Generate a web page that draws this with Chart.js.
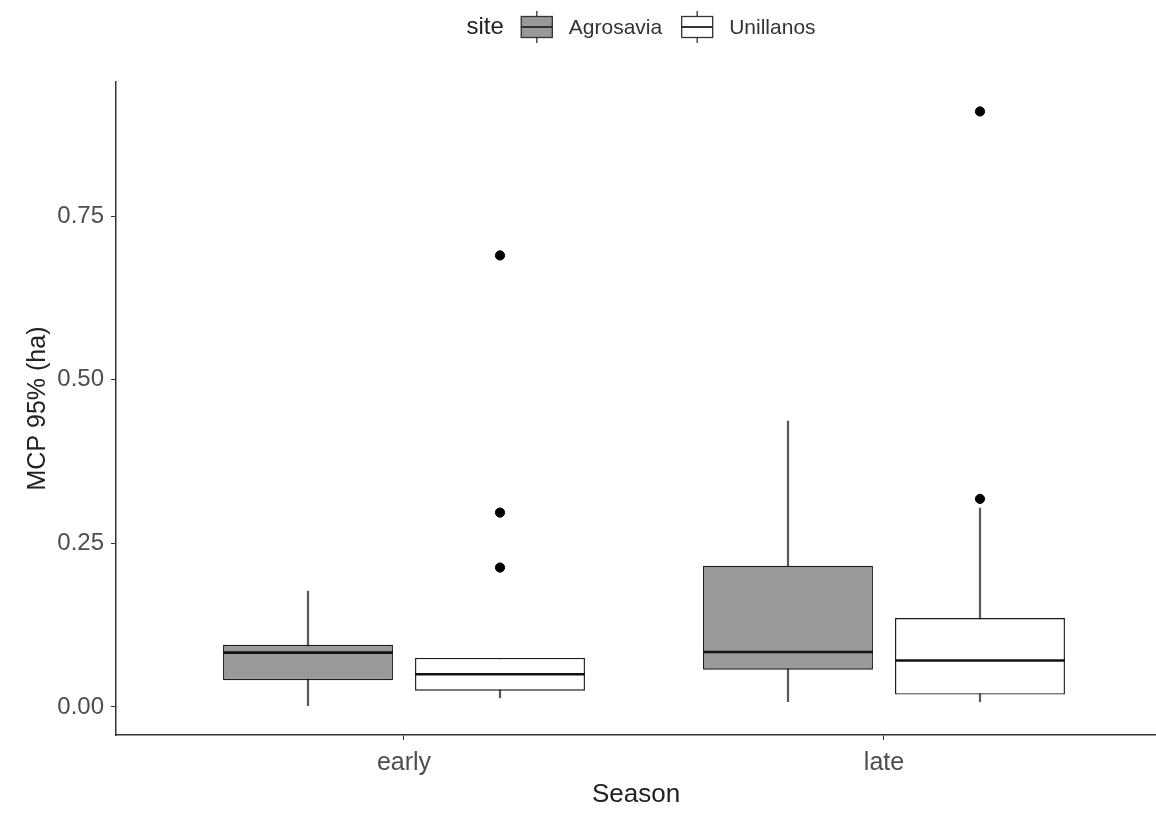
<!DOCTYPE html>
<html>
<head>
<meta charset="utf-8">
<script src="https://cdn.jsdelivr.net/npm/chart.js@4.4.0/dist/chart.umd.min.js"></script>
<style>
  html, body { margin: 0; padding: 0; background: #fff; }
  #wrap { width: 1156px; height: 814px; position: relative; }
</style>
</head>
<body>
<div id="wrap"><canvas id="boxChart"></canvas></div>
<script>
// categories
const seasons = ['early', 'late'];
const sites = ['Agrosavia', 'Unillanos'];

// box statistics per season
const agroLow = [0.002, 0.008];
const agroQ1 = [0.041, 0.057];
const agroMedian = [0.083, 0.084];
const agroQ3 = [0.095, 0.216];
const agroHigh = [0.177, 0.437];
const agroOutliers = [[], []];

const uniLow = [0.014, 0.008];
const uniQ1 = [0.025, 0.019];
const uniMedian = [0.050, 0.071];
const uniQ3 = [0.075, 0.136];
const uniHigh = [0.074, 0.304];
const uniOutliers = [[0.213, 0.297, 0.690], [0.318, 0.910]];

const yTicks = [0, 0.25, 0.5, 0.75];

// dodge offset of each site inside a season, in x units
const DODGE = 0.2;

const FONT = '"Liberation Sans", Arial, sans-serif';

function boxes(lo, hi, shift) {
    return seasons.map((s, i) => ({ x: i + 1 + shift, y: [lo[i], hi[i]] }));
}

function outliers(list, shift) {
    const pts = [];
    list.forEach((vals, i) => vals.forEach(v => pts.push({ x: i + 1 + shift, y: v })));
    return pts;
}

const medianPlugin = {
    id: 'medians',
    afterDatasetsDraw(chart) {
        const ctx = chart.ctx;
        const yScale = chart.scales.y;
        chart.data.datasets.forEach((ds, di) => {
            if (!ds.medians) return;
            chart.getDatasetMeta(di).data.forEach((bar, i) => {
                const py = yScale.getPixelForValue(ds.medians[i]);
                ctx.save();
                ctx.strokeStyle = '#111';
                ctx.lineWidth = 2.6;
                ctx.beginPath();
                ctx.moveTo(bar.x - bar.width / 2, py);
                ctx.lineTo(bar.x + bar.width / 2, py);
                ctx.stroke();
                ctx.restore();
            });
        });
    }
};

const legendPlugin = {
    id: 'siteLegend',
    afterDraw(chart) {
        const ctx = chart.ctx;
        const cy = 27;
        const keyW = 32, gapTitle = 17, gapKey = 16, gapItem = 19;
        const fills = ['#999999', '#ffffff'];
        ctx.save();
        ctx.textBaseline = 'middle';
        ctx.font = '24px ' + FONT;
        const titleW = ctx.measureText('site').width;
        ctx.font = '21px ' + FONT;
        const labelW = sites.map(s => ctx.measureText(s).width);
        let total = titleW + gapTitle;
        sites.forEach((s, i) => { total += keyW + gapKey + labelW[i] + (i < sites.length - 1 ? gapItem : 0); });
        let x = 641 - total / 2;

        ctx.fillStyle = '#222';
        ctx.font = '24px ' + FONT;
        ctx.fillText('site', x, cy);
        x += titleW + gapTitle;

        sites.forEach((s, i) => {
            const cx = x + keyW / 2;
            ctx.strokeStyle = '#333';
            ctx.lineWidth = 1.3;
            ctx.beginPath();
            ctx.moveTo(cx, cy - 16); ctx.lineTo(cx, cy + 16);
            ctx.stroke();
            ctx.fillStyle = fills[i];
            ctx.fillRect(x, cy - 10.5, keyW, 21);
            ctx.strokeRect(x + 0.5, cy - 10.5, keyW - 1, 21);
            ctx.lineWidth = 2;
            ctx.beginPath();
            ctx.moveTo(x, cy); ctx.lineTo(x + keyW, cy);
            ctx.stroke();
            x += keyW + gapKey;
            ctx.fillStyle = '#333';
            ctx.font = '21px ' + FONT;
            ctx.fillText(s, x, cy + 1);
            x += labelW[i] + gapItem;
        });
        ctx.restore();
    }
};

const ctx = document.getElementById('boxChart');
new Chart(ctx, {
    type: 'bar',
    data: {
        datasets: [
            {
                label: sites[0],
                data: boxes(agroQ1, agroQ3, -DODGE),
                medians: agroMedian,
                backgroundColor: '#999999',
                borderColor: '#1a1a1a',
                borderWidth: 1.4,
                borderSkipped: false,
                grouped: false,
                categoryPercentage: 1,
                barPercentage: 0.885,
                order: 0
            },
            {
                label: sites[1],
                data: boxes(uniQ1, uniQ3, DODGE),
                medians: uniMedian,
                backgroundColor: '#ffffff',
                borderColor: '#1a1a1a',
                borderWidth: 1.4,
                borderSkipped: false,
                grouped: false,
                categoryPercentage: 1,
                barPercentage: 0.885,
                order: 0
            },
            {
                label: sites[0] + ' whisker',
                data: boxes(agroLow, agroHigh, -DODGE),
                backgroundColor: '#5a5a5a',
                barThickness: 1.6,
                grouped: false,
                order: 2
            },
            {
                label: sites[1] + ' whisker',
                data: boxes(uniLow, uniHigh, DODGE),
                backgroundColor: '#5a5a5a',
                barThickness: 1.6,
                grouped: false,
                order: 2
            },
            {
                type: 'scatter',
                label: 'outliers',
                data: outliers(agroOutliers, -DODGE).concat(outliers(uniOutliers, DODGE)),
                backgroundColor: '#000',
                borderColor: '#000',
                pointRadius: 4.6,
                order: 0
            }
        ]
    },
    options: {
        responsive: true,
        maintainAspectRatio: false,
        animation: false,
        layout: { autoPadding: false, padding: { top: 82, left: 0, right: 0, bottom: 0 } },
        plugins: {
            legend: { display: false },
            tooltip: { enabled: false }
        },
        scales: {
            x: {
                type: 'linear',
                min: 0.4,
                max: 2.5667,
                offset: false,
                afterFit: s => { s.height = 79; s.paddingLeft = 0; s.paddingRight = 0; },
                afterBuildTicks: s => { s.ticks = seasons.map((n, i) => ({ value: i + 1 })); },
                grid: { offset: false, drawOnChartArea: false, drawTicks: true, tickLength: 5, color: '#333' },
                border: { display: true, color: '#333', width: 1.5 },
                ticks: {
                    autoSkip: false,
                    maxRotation: 0,
                    padding: 8,
                    color: '#4d4d4d',
                    font: { family: FONT, size: 25 },
                    callback: v => seasons[v - 1]
                },
                title: {
                    display: true,
                    text: 'Season',
                    color: '#222',
                    font: { family: FONT, size: 26 },
                    padding: { top: 0, bottom: 4 }
                }
            },
            y: {
                min: -0.0428,
                max: 0.955,
                afterFit: s => { s.width = 116; },
                afterBuildTicks: s => { s.ticks = yTicks.map(v => ({ value: v })); },
                grid: { drawOnChartArea: false, drawTicks: true, tickLength: 5, color: '#333' },
                border: { display: true, color: '#333', width: 1.5 },
                ticks: {
                    autoSkip: false,
                    padding: 7,
                    color: '#4d4d4d',
                    font: { family: FONT, size: 24 },
                    callback: v => Number(v).toFixed(2)
                },
                title: {
                    display: true,
                    text: 'MCP 95% (ha)',
                    color: '#222',
                    font: { family: FONT, size: 25 },
                    padding: { top: 23, bottom: 0 }
                }
            }
        }
    },
    plugins: [medianPlugin, legendPlugin]
});
</script>
</body>
</html>
